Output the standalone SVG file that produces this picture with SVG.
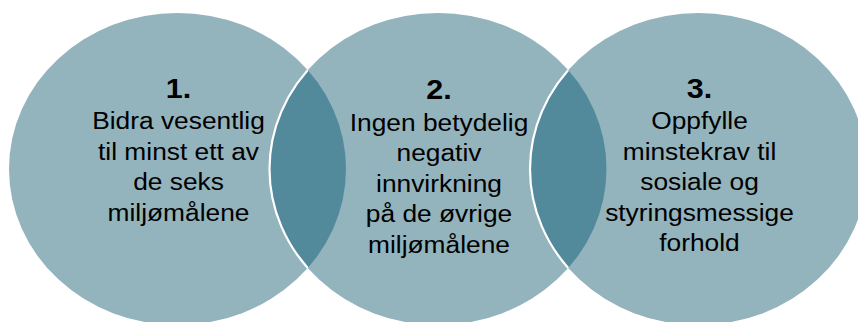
<svg xmlns="http://www.w3.org/2000/svg" width="858" height="322" viewBox="0 0 858 322">
  <style>
    .circle { fill: #93B3BD; }
    .lens { fill: #538A9B; }
    .edge { fill: none; stroke: #FFFFFF; stroke-width: 2.2; }
    .num { font-family: "Liberation Sans", Arial, sans-serif; font-weight: bold; font-size: 27px; fill: #000; text-anchor: middle; }
    .body { font-family: "Liberation Sans", Arial, sans-serif; font-size: 23.3px; fill: #000; text-anchor: middle; }
  </style>
  <defs>
    <clipPath id="clip1"><ellipse cx="177.5" cy="169" rx="168.5" ry="156"/></clipPath>
    <clipPath id="clip2"><ellipse cx="438" cy="169" rx="168.5" ry="156"/></clipPath>
  </defs>
  <rect width="858" height="322" fill="#FFFFFF"/>

  <g id="node1">
    <ellipse class="circle" cx="177.5" cy="169" rx="168.5" ry="156"/>
  </g>
  <g id="node2">
    <ellipse class="circle" cx="438" cy="169" rx="168.5" ry="156"/>
  </g>
  <g id="node3">
    <ellipse class="circle" cx="698.5" cy="169" rx="168.5" ry="156"/>
  </g>

  <g id="overlaps">
    <ellipse class="lens" cx="438" cy="169" rx="168.5" ry="156" clip-path="url(#clip1)"/>
    <ellipse class="lens" cx="698.5" cy="169" rx="168.5" ry="156" clip-path="url(#clip2)"/>
    <ellipse class="edge" cx="438" cy="169" rx="168.5" ry="156" clip-path="url(#clip1)"/>
    <ellipse class="edge" cx="698.5" cy="169" rx="168.5" ry="156" clip-path="url(#clip2)"/>
  </g>

  <g id="connectors"></g>

  <g id="label1" transform="translate(178.5 0) scale(1.13 1)">
    <text class="num" x="0" y="97.7">1.</text>
    <text class="body" x="0" y="129.5">Bidra vesentlig</text>
    <text class="body" x="0" y="160">til minst ett av</text>
    <text class="body" x="0" y="190.5">de seks</text>
    <text class="body" x="0" y="221">miljømålene</text>
  </g>
  <g id="label2" transform="translate(439 0) scale(1.13 1)">
    <text class="num" x="0" y="99">2.</text>
    <text class="body" x="0" y="131">Ingen betydelig</text>
    <text class="body" x="0" y="161.4">negativ</text>
    <text class="body" x="0" y="191.8">innvirkning</text>
    <text class="body" x="0" y="222.2">på de øvrige</text>
    <text class="body" x="0" y="252.6">miljømålene</text>
  </g>
  <g id="label3" transform="translate(699.5 0) scale(1.13 1)">
    <text class="num" x="0" y="97.7">3.</text>
    <text class="body" x="0" y="129.5">Oppfylle</text>
    <text class="body" x="0" y="160">minstekrav til</text>
    <text class="body" x="0" y="190.5">sosiale og</text>
    <text class="body" x="0" y="221">styringsmessige</text>
    <text class="body" x="0" y="251">forhold</text>
  </g>
</svg>
